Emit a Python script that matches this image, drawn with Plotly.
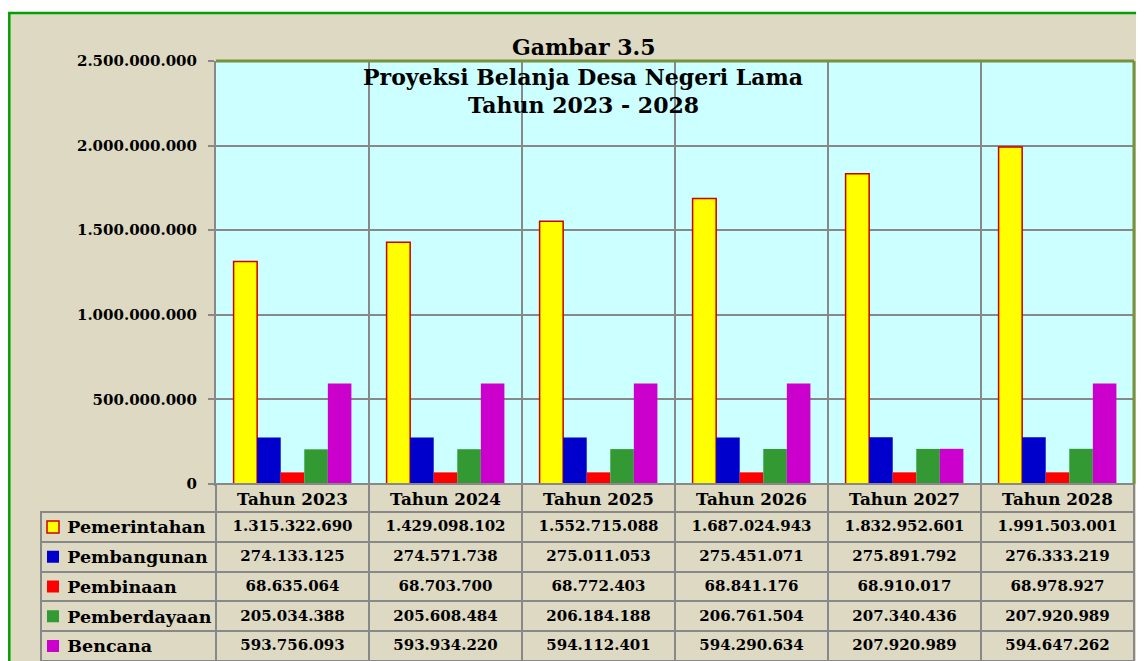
import plotly.graph_objects as go

years = ["Tahun 2023", "Tahun 2024", "Tahun 2025", "Tahun 2026", "Tahun 2027", "Tahun 2028"]
series_names = ["Pemerintahan", "Pembangunan", "Pembinaan", "Pemberdayaan", "Bencana"]
pemerintahan = [1315322690, 1429098102, 1552715088, 1687024943, 1832952601, 1991503001]
pembangunan = [274133125, 274571738, 275011053, 275451071, 275891792, 276333219]
pembinaan = [68635064, 68703700, 68772403, 68841176, 68910017, 68978927]
pemberdayaan = [205034388, 205608484, 206184188, 206761504, 207340436, 207920989]
bencana = [593756093, 593934220, 594112401, 594290634, 207920989, 594647262]

colors = ["#ffff00", "#0000cc", "#ff0000", "#339933", "#cc00cc"]
outline = ["#cc0000", None, None, None, None]

W, H = 1136, 653   # page has an 8px body margin
BG = "#ddd9c3"
GRID = "#888888"
FONT = "DejaVu Serif"

def fx(px):
    return px / W

def fy(py):
    return 1 - py / H

def fmt(v):
    return f"{v:,}".replace(",", ".")

all_series = [pemerintahan, pembangunan, pembinaan, pemberdayaan, bencana]

fig = go.Figure()
for name, vals, col, oc in zip(series_names, all_series, colors, outline):
    fig.add_trace(go.Bar(
        x=years, y=vals, name="", legendgroup=name,
        marker=dict(color=col, line=dict(color=oc or col, width=1.5 if oc else 0)),
        hoverinfo="x+y",
    ))

# data table under the chart
cell_cols = [["\u00a0\u00a0\u00a0" + n for n in series_names]]
for j in range(len(years)):
    cell_cols.append([fmt(s[j]) for s in all_series])

fig.add_trace(go.Table(
    domain=dict(x=[fx(33), fx(1126)], y=[0, fy(476)]),
    columnwidth=[175] + [153] * len(years),
    header=dict(
        values=[""] + years, height=28,
        fill=dict(color=["rgba(0,0,0,0)"] + [BG] * len(years)),
        line=dict(color=["rgba(0,0,0,0)"] + [GRID] * len(years), width=2),
        font=dict(family=FONT, size=16.8, color="black", weight="bold"),
        align="center",
    ),
    cells=dict(
        values=cell_cols, height=29.8,
        fill=dict(color=BG),
        line=dict(color=GRID, width=2),
        font=dict(family=FONT, size=[17.5] + [15] * len(years), color="black", weight="bold"),
        align=["left"] + ["center"] * len(years),
    ),
))

fig.update_layout(
    width=W, height=H,
    margin=dict(l=0, r=0, t=0, b=0, autoexpand=False),
    paper_bgcolor=BG, plot_bgcolor="#ccffff",
    separators=",.",
    barmode="group", bargap=0.23, bargroupgap=0,
    showlegend=True,
    legend=dict(
        x=fx(25), y=fy(504.4), xanchor="left", yanchor="top",
        bgcolor="rgba(0,0,0,0)", borderwidth=0, tracegroupgap=10.8,
        font=dict(size=12), traceorder="grouped",
    ),
    xaxis=dict(
        domain=[fx(208), fx(1126)], type="category", automargin=False,
        showticklabels=False, ticks="", tickson="boundaries",
        showgrid=True, gridcolor=GRID, gridwidth=2,
        showline=True, linecolor=GRID, linewidth=2,
    ),
    yaxis=dict(
        domain=[fy(476), fy(53)], range=[0, 2.5e9], dtick=5e8, tickformat=",d",
        automargin=False,
        showgrid=True, gridcolor=GRID, gridwidth=2, zeroline=False,
        showline=True, linecolor=GRID, linewidth=2,
        ticks="outside", ticklen=6, tickcolor=GRID, tickwidth=2,
        ticklabelstandoff=8,
        tickfont=dict(family=FONT, size=15, color="black", weight="bold"),
    ),
    shapes=[
        # white strip above the frame and the green frame
        dict(type="rect", xref="paper", yref="paper", x0=0, x1=1, y0=fy(4), y1=1,
             fillcolor="white", line=dict(width=0), layer="below"),
        dict(type="rect", xref="paper", yref="paper", x0=fx(1.3), x1=1.05, y0=fy(5), y1=-0.05,
             fillcolor="rgba(0,0,0,0)", line=dict(color="#00a000", width=2.5), layer="below"),
        # olive border on top and right of the plot area
        dict(type="line", xref="x domain", yref="y domain", x0=0, x1=1, y0=1, y1=1,
             line=dict(color="#76923c", width=3), layer="above"),
        dict(type="line", xref="x domain", yref="y domain", x0=1, x1=1, y0=0, y1=1,
             line=dict(color="#76923c", width=3), layer="above"),
    ],
)

title_lines = ["Gambar 3.5", "Proyeksi Belanja Desa Negeri Lama", "Tahun 2023 - 2028"]
title_y = [39, 69, 97]
for txt, ty in zip(title_lines, title_y):
    fig.add_annotation(
        text=txt, xref="paper", yref="paper", x=fx(575), y=fy(ty),
        xanchor="center", yanchor="middle", showarrow=False,
        font=dict(family=FONT, size=22, color="black", weight="bold"),
    )

fig.write_html("out.html")
